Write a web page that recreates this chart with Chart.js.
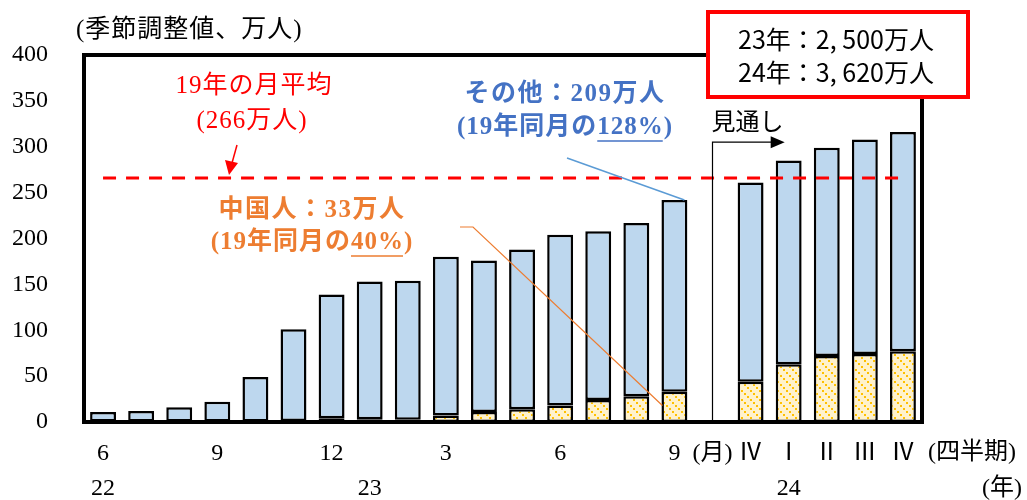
<!DOCTYPE html>
<html>
<head>
<meta charset="utf-8">
<script src="https://cdn.jsdelivr.net/npm/chart.js@4/dist/chart.umd.min.js"></script>
<style>
  body { margin: 0; background: #fff; }
  #wrap { width: 1027px; height: 500px; position: relative; }
</style>
</head>
<body>
<div id="wrap"><canvas id="myChart"></canvas></div>
<script>
// monthly 2022/6 - 2023/9, gap, then quarterly outlook 23Q4 - 24Q4
const categories = ["22/6","22/7","22/8","22/9","22/10","22/11","22/12","23/1","23/2","23/3","23/4","23/5","23/6","23/7","23/8","23/9","","23Q4","24Q1","24Q2","24Q3","24Q4"];
const tickLabels = ["6","","","9","","","12","","","3","","","6","","","9","(月)","Ⅳ","Ⅰ","Ⅱ","Ⅲ","Ⅳ"];
const yearLabels = ["22","","","","","","","23","","","","","","","","","","","24","","",""];
const chinaValues = [0.5,0.5,0.5,0.5,0.5,1,4,3,2.5,7,11,14,18,24,28,33,null,44,63,72,74,77];
const otherValues = [10.5,11.5,15.5,21.5,48.5,100,135,150,151.5,173,165,174,186,184,189,209,null,217,222,227,234,239];
const avg2019 = 266;

const serif = "'Liberation Serif', 'Noto Sans CJK JP', serif";
const jp = "'Liberation Serif', 'Noto Sans CJK JP', sans-serif";

function hatch() {
  const c = document.createElement("canvas");
  c.width = 9; c.height = 9;
  const g = c.getContext("2d");
  g.fillStyle = "#FFF2CC";
  g.fillRect(0, 0, 9, 9);
  g.fillStyle = "#FFC000";
  for (let i = 0; i < 9; i += 3) g.fillRect(i, i, 2, 2);
  return g.createPattern(c, "repeat");
}

function text(ctx, str, x, y, font, color, align, sp) {
  ctx.font = font;
  ctx.letterSpacing = (sp || 0) + "px";
  ctx.fillStyle = color;
  ctx.textAlign = align || "center";
  ctx.textBaseline = "middle";
  ctx.fillText(str, x, y);
  ctx.letterSpacing = "0px";
}

// centred text with one part underlined
function textUnder(ctx, pre, part, post, cx, y, font, color, sp) {
  ctx.font = font;
  ctx.letterSpacing = sp + "px";
  const w1 = ctx.measureText(pre).width;
  const w2 = ctx.measureText(part).width;
  const w3 = ctx.measureText(post).width;
  const x0 = cx - (w1 + w2 + w3) / 2;
  text(ctx, pre, x0, y, font, color, "left", sp);
  text(ctx, part, x0 + w1, y, font, color, "left", sp);
  text(ctx, post, x0 + w1 + w2, y, font, color, "left", sp);
  ctx.strokeStyle = color;
  ctx.lineWidth = 1.5;
  ctx.beginPath();
  ctx.moveTo(x0 + w1, y + 13);
  ctx.lineTo(x0 + w1 + w2 - sp, y + 13);
  ctx.stroke();
}

const overlay = {
  id: "overlay",
  afterDatasetsDraw(chart) {
    const ctx = chart.ctx;
    const a = chart.chartArea;
    const x = chart.scales.x, y = chart.scales.y;
    ctx.save();

    // plot frame
    ctx.strokeStyle = "#000";
    ctx.lineWidth = 4;
    ctx.strokeRect(a.left, a.top, a.right - a.left, a.bottom - a.top);

    // 2019 monthly average
    const ya = y.getPixelForValue(avg2019);
    ctx.strokeStyle = "#FF0000";
    ctx.lineWidth = 3;
    ctx.setLineDash([13, 10]);
    ctx.beginPath();
    ctx.moveTo(x.getPixelForValue(0), ya);
    ctx.lineTo(x.getPixelForValue(21), ya);
    ctx.stroke();
    ctx.setLineDash([]);
    text(ctx, "19年の月平均", 254, 86, "25px " + jp, "#FF0000", "center", 1);
    text(ctx, "(266万人)", 252, 121, "25px " + jp, "#FF0000", "center", 1);
    ctx.strokeStyle = "#FF0000";
    ctx.lineWidth = 1.5;
    ctx.beginPath();
    ctx.moveTo(237, 145); ctx.lineTo(232, 163);
    ctx.stroke();
    ctx.fillStyle = "#FF0000";
    ctx.beginPath();
    ctx.moveTo(229, ya - 3); ctx.lineTo(225, 160); ctx.lineTo(238, 163);
    ctx.closePath(); ctx.fill();

    // outlook marker
    const xg = x.getPixelForValue(16);
    const yt = y.getPixelForValue(305);
    const xe = x.getPixelForValue(18) - 4;
    ctx.strokeStyle = "#000";
    ctx.lineWidth = 1.2;
    ctx.beginPath();
    ctx.moveTo(xg, a.bottom); ctx.lineTo(xg, yt); ctx.lineTo(xe - 10, yt);
    ctx.stroke();
    ctx.fillStyle = "#000";
    ctx.beginPath();
    ctx.moveTo(xe, yt); ctx.lineTo(xe - 14, yt - 6); ctx.lineTo(xe - 14, yt + 6);
    ctx.closePath(); ctx.fill();
    text(ctx, "見通し", xg - 1, 124, "24px " + jp, "#000", "left", 0);

    // other label
    const blue = "#4472C4";
    text(ctx, "その他：209万人", 565, 95, "bold 25px " + jp, blue, "center", 1.5);
    textUnder(ctx, "(19年同月の", "128%", ")", 565, 128, "bold 25px " + jp, blue, 1);
    const top15 = y.getPixelForValue(chinaValues[15] + otherValues[15]);
    ctx.strokeStyle = "#5B9BD5";
    ctx.lineWidth = 1.5;
    ctx.beginPath();
    ctx.moveTo(567, 158); ctx.lineTo(x.getPixelForValue(15) + 10, top15);
    ctx.stroke();

    // china label
    const orange = "#ED7D31";
    text(ctx, "中国人：33万人", 312, 211, "bold 25px " + jp, orange, "center", 1.5);
    textUnder(ctx, "(19年同月の", "40%", ")", 312, 243, "bold 25px " + jp, orange, 1);
    ctx.strokeStyle = orange;
    ctx.lineWidth = 1.2;
    ctx.beginPath();
    ctx.moveTo(460, 227); ctx.lineTo(473, 227);
    ctx.lineTo(x.getPixelForValue(15) - 12, y.getPixelForValue(18));
    ctx.stroke();

    // totals box
    ctx.fillStyle = "#fff";
    ctx.fillRect(708, 12, 260, 85);
    ctx.strokeStyle = "#FF0000";
    ctx.lineWidth = 4;
    ctx.strokeRect(708, 12, 260, 85);
    text(ctx, "23年：2, 500万人", 836, 39, "25px 'Noto Sans CJK JP', sans-serif", "#000", "center", 0);
    text(ctx, "24年：3, 620万人", 836, 72, "25px 'Noto Sans CJK JP', sans-serif", "#000", "center", 0);

    // axis captions
    text(ctx, "(季節調整値、万人)", 76, 30, "25px " + jp, "#000", "left", 1);
    text(ctx, "(四半期)", a.right + 6, 453, "24px " + jp, "#000", "left", 0);
    text(ctx, "(年)", 1022, 489, "24px " + jp, "#000", "right", 0);
    ctx.restore();
  }
};

const data = {
  labels: categories,
  datasets: [
    {
      label: "中国人",
      data: chinaValues,
      backgroundColor: hatch(),
      borderColor: "#000",
      borderWidth: 2.5,
      borderSkipped: false,
      barPercentage: 0.68,
      categoryPercentage: 1,
    },
    {
      label: "その他",
      data: otherValues,
      backgroundColor: "#BDD7EE",
      borderColor: "#000",
      borderWidth: 2.5,
      borderSkipped: false,
      barPercentage: 0.68,
      categoryPercentage: 1,
    },
  ],
};

const config = {
  type: "bar",
  data,
  options: {
    responsive: true,
    maintainAspectRatio: false,
    animation: false,
    layout: { padding: { top: 55, right: 105, bottom: 0, left: 0 } },
    plugins: { legend: { display: false }, tooltip: { enabled: false } },
    scales: {
      x: {
        stacked: true,
        grid: { display: false, drawTicks: false },
        border: { display: false },
        afterFit: (s) => { s.height = 78; },
        ticks: {
          autoSkip: false,
          maxRotation: 0,
          padding: 14,
          color: "#000",
          font: { family: serif, size: 24, lineHeight: 35 / 24 },
          callback: (v, i) => yearLabels[i] ? [tickLabels[i], yearLabels[i]] : tickLabels[i],
        },
      },
      y: {
        stacked: true,
        min: 0,
        max: 400,
        grid: { display: false, drawTicks: false },
        border: { display: false },
        afterFit: (s) => { s.width = 84; },
        ticks: {
          stepSize: 50,
          padding: 36,
          color: "#000",
          font: { family: serif, size: 24 },
        },
      },
    },
  },
  plugins: [overlay],
};

var myChart = new Chart(document.getElementById("myChart"), config);
</script>
</body>
</html>
